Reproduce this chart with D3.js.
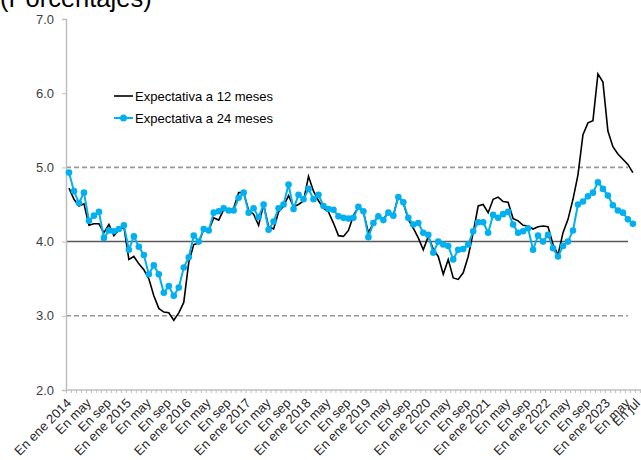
<!DOCTYPE html>
<html><head><meta charset="utf-8">
<script src="https://cdn.jsdelivr.net/npm/d3@7"></script>
<style>body{margin:0;background:#fff}svg{display:block;font-family:"Liberation Sans",Arial,sans-serif}</style>
</head><body><svg id="c" width="641" height="460"></svg>
<script>
// Categories: months Jan 2014 .. Jul 2023 (data run to Jun 2023)
const categories = d3.timeMonth.range(new Date(2014,0,1), new Date(2023,7,1));
const tickIdx = d3.range(0,113,4).concat([114]);
const tickLabels = ["En ene 2014","En may","En sep","En ene 2015","En may","En sep","En ene 2016","En may","En sep",
 "En ene 2017","En may","En sep","En ene 2018","En may","En sep","En ene 2019","En may","En sep",
 "En ene 2020","En may","En sep","En ene 2021","En may","En sep","En ene 2022","En may","En sep",
 "En ene 2023","En may","En jul"];
const yTicks = [2,3,4,5,6,7];
const seriesNames = ["Expectativa a 12 meses","Expectativa a 24 meses"];
const exp12 = [4.72,4.57,4.48,4.51,4.22,4.24,4.24,4.12,4.23,4.08,4.16,4.20,
 3.76,3.80,3.70,3.62,3.50,3.27,3.10,3.05,3.04,2.94,3.04,3.18,
 3.72,3.96,3.98,4.17,4.15,4.32,4.29,4.43,4.42,4.45,4.66,4.66,
 4.42,4.37,4.22,4.50,4.20,4.17,4.40,4.48,4.62,4.47,4.50,4.55,
 4.88,4.68,4.55,4.45,4.40,4.25,4.08,4.07,4.15,4.35,4.47,
 4.40,4.12,4.25,4.35,4.30,4.40,4.35,4.62,4.52,4.30,4.18,4.05,
 3.89,4.07,3.90,3.80,3.56,3.76,3.51,3.49,3.58,3.80,4.12,4.48,
 4.50,4.39,4.57,4.60,4.54,4.53,4.31,4.28,4.22,4.21,4.17,4.20,
 4.21,4.20,3.96,3.82,4.12,4.30,4.57,4.90,5.44,5.60,5.63,6.26,
 6.15,5.49,5.28,5.18,5.11,5.04,4.93];
const exp24 = [4.93,4.68,4.52,4.66,4.28,4.35,4.40,4.05,4.15,4.14,4.17,4.22,
 3.89,4.07,3.93,3.82,3.56,3.68,3.56,3.31,3.40,3.27,3.38,3.65,
 3.79,4.08,4.00,4.17,4.15,4.39,4.41,4.45,4.42,4.42,4.59,4.66,
 4.39,4.45,4.33,4.50,4.16,4.27,4.45,4.50,4.77,4.44,4.63,4.57,
 4.71,4.57,4.63,4.48,4.44,4.43,4.34,4.32,4.31,4.32,4.47,
 4.41,4.06,4.25,4.34,4.29,4.39,4.35,4.60,4.53,4.32,4.23,4.25,
 4.12,4.09,3.85,4.00,3.96,3.94,3.76,3.89,3.90,3.96,4.14,4.26,
 4.26,4.12,4.36,4.32,4.37,4.40,4.23,4.12,4.14,4.18,3.89,4.08,
 4.00,4.09,3.91,3.80,3.94,4.00,4.15,4.50,4.54,4.61,4.66,4.80,
 4.71,4.62,4.49,4.42,4.39,4.30,4.24];
const refSolid = [4];
const refDashed = [3,5];

const svg = d3.select("#c");
const axL = 66, axR = 641, step = 4.99, bandStart = 66.5;
const x = d3.scaleBand().domain(d3.range(categories.length)).range([bandStart, bandStart + step*categories.length]);
const cx = i => x(i) + x.bandwidth()/2;
const y = d3.scaleLinear().domain([2,7]).range([390,19]);

// title
svg.append("text").attr("x",0).attr("y",7).attr("font-size",25.5).attr("fill","#000").text("(Porcentajes)");

// reference lines
const refEnd = 628;
svg.selectAll(".dash").data(refDashed).join("line")
  .attr("x1",axL).attr("x2",refEnd).attr("y1",d=>y(d)).attr("y2",d=>y(d))
  .attr("stroke","#999").attr("stroke-width",1.6).attr("stroke-dasharray","5,3");
svg.selectAll(".solid").data(refSolid).join("line")
  .attr("x1",axL).attr("x2",refEnd).attr("y1",d=>y(d)).attr("y2",d=>y(d))
  .attr("stroke","#595959").attr("stroke-width",1.5);

// y axis
const yAxis = d3.axisLeft(y).tickValues(yTicks).tickFormat(d3.format(".1f")).tickSize(4).tickPadding(8);
const gy = svg.append("g").attr("transform",`translate(${axL},0)`).call(yAxis);
gy.select(".domain").attr("stroke","#bfbfbf").attr("stroke-width",1.5);
gy.selectAll(".tick line").attr("stroke","#bfbfbf");
gy.selectAll("text").attr("font-size",13).attr("fill","#404040").attr("font-family","Liberation Sans, Arial, sans-serif");

// x axis
const gx = svg.append("g").attr("transform","translate(0,390)");
gx.append("line").attr("x1",axL).attr("x2",axR).attr("stroke","#bfbfbf").attr("stroke-width",1.5);
gx.selectAll(".mt").data(d3.range(categories.length+1)).join("line")
  .attr("x1",i=>bandStart+i*step).attr("x2",i=>bandStart+i*step).attr("y1",0).attr("y2",3)
  .attr("stroke","#bfbfbf").attr("stroke-width",1);
gx.selectAll(".xl").data(tickIdx).join("text")
  .attr("transform",(d)=>`translate(${cx(d)+3},14) rotate(-45)`)
  .attr("text-anchor","end").attr("font-size",13).attr("fill","#262626")
  .text((d,k)=>tickLabels[k]);

// series
const line = d3.line().x((d,i)=>cx(i)).y(d=>y(d));
svg.append("path").datum(exp12).attr("d",line).attr("fill","none").attr("stroke","#000").attr("stroke-width",1.6);
svg.append("path").datum(exp24).attr("d",line).attr("fill","none").attr("stroke","#00B0F0").attr("stroke-width",2);
svg.selectAll(".m").data(exp24).join("circle").attr("cx",(d,i)=>cx(i)).attr("cy",d=>y(d)).attr("r",3.3).attr("fill","#00B0F0");

// legend
const lg = svg.append("g");
lg.append("line").attr("x1",114).attr("x2",133).attr("y1",96).attr("y2",96).attr("stroke","#000").attr("stroke-width",1.6);
lg.append("text").attr("x",135).attr("y",100.5).attr("font-size",13).attr("fill","#000").text(seriesNames[0]);
lg.append("line").attr("x1",114).attr("x2",133).attr("y1",118).attr("y2",118).attr("stroke","#00B0F0").attr("stroke-width",2);
lg.append("circle").attr("cx",123.5).attr("cy",118).attr("r",3.5).attr("fill","#00B0F0");
lg.append("text").attr("x",135).attr("y",122.5).attr("font-size",13).attr("fill","#000").text(seriesNames[1]);
</script></body></html>
